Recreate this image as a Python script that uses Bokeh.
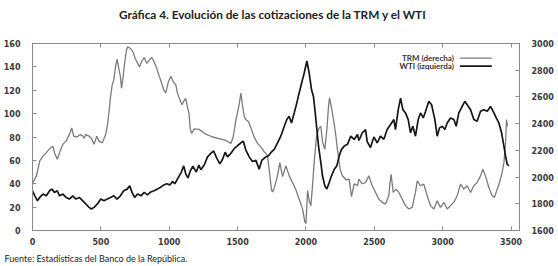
from bokeh.plotting import figure
from bokeh.layouts import column
from bokeh.models import (Range1d, LinearAxis, SingleIntervalTicker, Title, Label, Arrow,
                          CustomLabelingPolicy)
from bokeh.embed import file_html
from bokeh.resources import INLINE

# ---------------- data ----------------
trm_x = [0, 29, 53, 77, 101, 133, 149, 161, 181, 198, 222, 246, 270, 287, 301, 325, 349, 366,
         378, 390, 414, 431, 450, 470, 487, 511, 535, 547, 559, 571, 583, 595, 607, 619, 631,
         643, 651, 663, 672, 687, 696, 716, 735, 752, 769, 783, 800, 817, 836, 855, 872, 889,
         908, 928, 945, 960, 975, 993, 1012, 1030, 1048, 1060, 1077, 1094, 1108, 1120, 1133,
         1145, 1154, 1164, 1183, 1219, 1268, 1317, 1365, 1414, 1451, 1468, 1487, 1499, 1512,
         1524, 1536, 1548, 1560, 1580, 1597, 1621, 1646, 1670, 1694, 1719, 1731, 1748, 1756,
         1768, 1792, 1809, 1829, 1853, 1877, 1902, 1926, 1950, 1975, 1992, 2000, 2012, 2024,
         2036, 2048, 2060, 2077, 2092, 2109, 2121, 2138, 2153, 2165, 2173, 2189, 2202, 2219,
         2231, 2250, 2267, 2292, 2316, 2333, 2353, 2377, 2387, 2411, 2436, 2460, 2485, 2509,
         2533, 2558, 2582, 2606, 2614, 2623, 2638, 2660, 2680, 2704, 2728, 2753, 2777, 2801,
         2814, 2838, 2862, 2887, 2911, 2936, 2960, 2984, 3009, 3033, 3057, 3082, 3106, 3131,
         3155, 3179, 3204, 3228, 3252, 3277, 3294, 3313, 3338, 3362, 3379, 3399, 3416, 3435,
         3448, 3460, 3467, 3474]
trm_y = [1954, 2009, 2121, 2157, 2183, 2220, 2230, 2183, 2134, 2183, 2245, 2269, 2318, 2368, 2306,
         2300, 2318, 2309, 2291, 2318, 2306, 2291, 2245, 2306, 2269, 2256, 2318, 2379, 2480,
         2604, 2690, 2729, 2825, 2882, 2816, 2752, 2666, 2752, 2839, 2951, 2976, 2963, 2939,
         2886, 2851, 2825, 2869, 2895, 2851, 2878, 2895, 2864, 2816, 2752, 2703, 2650, 2631,
         2711, 2755, 2711, 2693, 2629, 2580, 2542, 2571, 2589, 2528, 2475, 2361, 2326, 2361,
         2357, 2321, 2300, 2287, 2274, 2252, 2300, 2423, 2480, 2545, 2629, 2536, 2458, 2431,
         2414, 2370, 2300, 2252, 2226, 2191, 2160, 2055, 1906, 1889, 1915, 2011, 2108, 2003,
         2085, 2011, 1959, 1906, 1836, 1762, 1664, 1652, 1898, 1820, 1786, 1935, 2108, 2300,
         2361, 2379, 2265, 2207, 2356, 2528, 2593, 2505, 2431, 2306, 2202, 2059, 2010, 1980,
         1985, 1854, 1950, 1935, 1984, 1950, 1959, 2009, 1935, 1885, 1835, 1811, 1798, 1860,
         1949, 2021, 1885, 1910, 1885, 1835, 1786, 1761, 1773, 1885, 1972, 1935, 1947, 1860,
         1786, 1761, 1823, 1773, 1811, 1761, 1786, 1811, 1860, 1947, 1910, 1935, 1885, 1935,
         1959, 2009, 2058, 2009, 1922, 1860, 1848, 1910, 1959, 2034, 2108, 2257, 2430, 2380]

wti_x = [0, 17, 36, 53, 77, 101, 125, 142, 161, 181, 198, 222, 246, 270, 294, 318, 342, 366,
         390, 414, 431, 450, 475, 499, 523, 547, 571, 595, 619, 643, 667, 692, 711, 728, 747,
         769, 793, 817, 841, 865, 889, 913, 937, 961, 981, 1005, 1024, 1041, 1065, 1089, 1106,
         1122, 1137, 1154, 1173, 1198, 1217, 1231, 1256, 1280, 1304, 1325, 1345, 1370, 1390,
         1409, 1426, 1451, 1475, 1499, 1524, 1541, 1560, 1585, 1609, 1634, 1658, 1677, 1702,
         1726, 1743, 1768, 1792, 1816, 1841, 1860, 1877, 1894, 1914, 1933, 1950, 1968, 1987,
         2007, 2024, 2041, 2055, 2068, 2080, 2092, 2109, 2121, 2138, 2153, 2170, 2187, 2207,
         2226, 2243, 2260, 2280, 2304, 2328, 2353, 2377, 2387, 2402, 2411, 2426, 2436, 2448,
         2472, 2497, 2521, 2545, 2570, 2594, 2619, 2643, 2655, 2675, 2692, 2709, 2728, 2748,
         2765, 2782, 2801, 2821, 2838, 2858, 2875, 2899, 2919, 2943, 2960, 2977, 2997, 3016,
         3033, 3057, 3082, 3099, 3118, 3143, 3162, 3179, 3204, 3228, 3252, 3277, 3301, 3326,
         3350, 3375, 3392, 3411, 3431, 3448, 3460, 3472, 3484]
wti_y = [34, 29.7, 25.5, 28.3, 31.2, 29.7, 34, 35.4, 32.6, 34, 29.7, 31.2, 28.3, 26.9, 29.7,
         26.9, 28.3, 25.5, 22.7, 19.8, 18.4, 19.8, 22.7, 26.9, 25.5, 26.9, 28.3, 29.7, 26.9,
         29.7, 34, 35.4, 38.2, 32.6, 28.3, 31.2, 29.7, 32.6, 30.5, 33, 34, 35.4, 37, 39, 40,
         39, 42, 40, 45, 50, 55.3, 48, 45, 51, 55, 50, 56, 52, 56, 63, 66, 68, 62.5, 57, 61,
         67, 63, 66, 70, 72.5, 75, 76.5, 69, 63, 59, 60, 52.5, 60, 62.6, 64, 66.6, 69.4, 75,
         80.7, 89, 95, 97.7, 92, 100.6, 109, 117.5, 126, 134.5, 145, 134.5, 120.4, 114.7,
         100.6, 86.4, 72.2, 58, 46.8, 38.3, 35.5, 41, 46.8, 52.4, 55.3, 63.8, 69.4, 72.2,
         73.7, 80.7, 77.9, 82.2, 77, 80.7, 83.6, 85, 86.4, 76, 71, 80, 75, 80.7, 78, 86.4,
         90.7, 94.9, 86.4, 103.4, 113.3, 103.4, 100.6, 94.9, 83.6, 89.2, 80.7, 94.9, 100.6,
         96.3, 102, 110.5, 107.6, 94.9, 80.7, 87.8, 89.2, 86.4, 92, 96.3, 94.9, 89.2, 100.6,
         106.2, 110.5, 107.6, 103.4, 94.9, 93.5, 102, 103.4, 102, 106.2, 100.6, 96.3, 92,
         83.6, 72.2, 63.7, 56.7, 55.2]

x_ticks_interval = 500
title_text = "Gráfica 4. Evolución de las cotizaciones de la TRM y el WTI"
source_text = "Fuente: Estadísticas del Banco de la República."
legend_labels = ["TRM (derecha)", "WTI (izquierda)"]

TICK_FONT = "DejaVu Sans"
TEXT_FONT = "Lato"
FRAME = "#8a8a8a"

# ---------------- title strip ----------------
head = figure(width=558, height=30, output_backend="svg", toolbar_location=None,
              x_range=Range1d(0, 558), y_range=Range1d(0, 30),
              min_border_left=0, min_border_right=0, min_border_top=0, min_border_bottom=0,
              outline_line_color=None)
head.axis.visible = False
head.grid.visible = False
head.add_layout(Label(x=99, y=16.5, text=title_text, text_align="left", text_baseline="middle",
                      text_font=TEXT_FONT, text_font_style="bold", text_font_size="11.8px",
                      text_color="#222222"))

# ---------------- main chart ----------------
p = figure(width=558, height=236, output_backend="svg", toolbar_location=None,
           x_range=Range1d(0, 3562), y_range=Range1d(0, 160),
           min_border_left=32, min_border_right=39, min_border_top=13, min_border_bottom=34,
           background_fill_color="white", border_fill_color="white")
p.extra_y_ranges = {"trm": Range1d(1600, 3000)}
p.grid.visible = False
p.outline_line_color = FRAME
p.outline_line_width = 1

def style_axis(ax, size="8px"):
    ax.axis_line_color = FRAME
    ax.major_tick_line_color = FRAME
    ax.major_tick_in = 4
    ax.major_tick_out = 0
    ax.minor_tick_line_color = None
    ax.major_label_text_font = TICK_FONT
    ax.major_label_text_font_style = "bold"
    ax.major_label_text_font_size = size
    ax.major_label_text_color = "#3a3a3a"

p.xaxis.ticker = SingleIntervalTicker(interval=x_ticks_interval)
p.yaxis.ticker = SingleIntervalTicker(interval=20)
style_axis(p.xaxis[0])
style_axis(p.yaxis[0])
p.xaxis.major_label_standoff = 3
p.yaxis.major_label_standoff = 8

right = LinearAxis(y_range_name="trm", ticker=SingleIntervalTicker(interval=200))
style_axis(right)
right.major_label_standoff = 8
p.add_layout(right, "right")

# top axis: tick marks only, no labels drawn
top = LinearAxis(ticker=SingleIntervalTicker(interval=x_ticks_interval))
style_axis(top, size="1px")
top.major_label_standoff = 0
top.major_label_policy = CustomLabelingPolicy(
    code="for (const i of Array.from(indices)) { indices.unset(i) }; return indices")
p.add_layout(top, "above")

# ---------------- series ----------------
p.line(trm_x, trm_y, y_range_name="trm", line_color="#7b7b7b", line_width=1.3)
p.line(wti_x, wti_y, line_color="#161616", line_width=1.7)

# ---------------- legend (text left, sample right) ----------------
leg_colors = ["#7b7b7b", "#161616"]
leg_widths = [1.3, 1.7]
leg_y = [147.5, 140.7]
for lab, col, lw, yy in zip(legend_labels, leg_colors, leg_widths, leg_y):
    p.add_layout(Label(x=3082, y=yy, text=lab, text_align="right", text_baseline="middle",
                       text_font=TEXT_FONT, text_font_style="bold", text_font_size="8px",
                       text_color="#333333"))
    p.add_layout(Arrow(end=None, x_start=3126, y_start=yy, x_end=3360, y_end=yy,
                       line_color=col, line_width=lw))

# ---------------- source ----------------
src = Title(text=source_text, align="left", offset=-28, text_font=TEXT_FONT,
            text_font_style="normal", text_font_size="9px", text_color="#222222", standoff=6)
p.add_layout(src, "below")

layout = column(head, p, spacing=0)
open("out.html", "w").write(file_html(layout, INLINE))
